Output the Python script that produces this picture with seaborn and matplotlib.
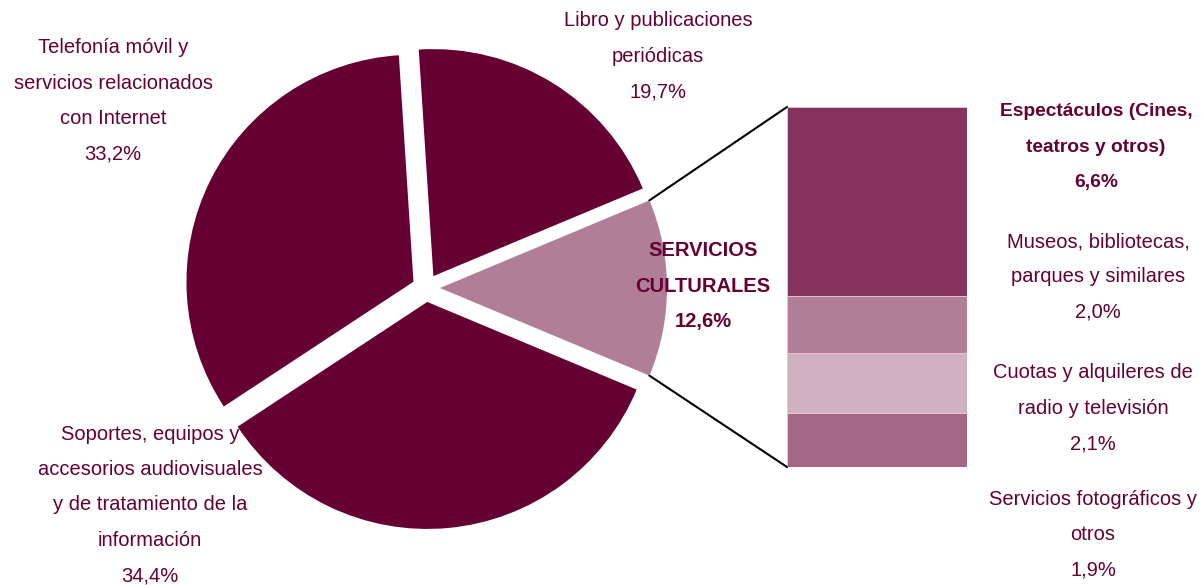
import matplotlib
matplotlib.use("Agg")
import matplotlib.pyplot as plt
import seaborn as sns
import numpy as np
from matplotlib.patches import ConnectionPatch

# --- Data ---
pie_labels = ["SERVICIOS\nCULTURALES", "Libro y publicaciones\nperiódicas",
              "Telefonía móvil y\nservicios relacionados\ncon Internet",
              "Soportes, equipos y\naccesorios audiovisuales\ny de tratamiento de la\ninformación"]
pie_values = [12.6, 19.7, 33.2, 34.4]

bar_labels = ["Servicios fotográficos y\notros", "Cuotas y alquileres de\nradio y televisión",
              "Museos, bibliotecas,\nparques y similares", "Espectáculos (Cines,\nteatros y otros)"]
bar_values = [1.9, 2.1, 2.0, 6.6]

pie_colors = ["#B07F97", "#660033", "#660033", "#660033"]
bar_colors = ["#A36684", "#D1B0C1", "#B07F97", "#85325D"]
text_color = "#660033"

sns.set_theme(style="white")
plt.rcParams['font.family'] = ['Liberation Sans', 'DejaVu Sans']

W, H = 1202, 585
fig = plt.figure(figsize=(W / 100, H / 100), dpi=100)

# --- Pie (data units = pixels) ---
cx, cy, half = 426, 288, 260
R = 227
ax_pie = fig.add_axes([(cx - half) / W, (H - cy - half) / H, 2 * half / W, 2 * half / H])
start = -pie_values[0] / sum(pie_values) * 360 / 2
wedges, _ = ax_pie.pie(pie_values, colors=pie_colors, startangle=start, radius=R,
                       explode=[14] * 4, counterclock=True,
                       wedgeprops=dict(linewidth=0))
ax_pie.set_xlim(-half, half)
ax_pie.set_ylim(-half, half)
ax_pie.set_aspect("equal")
ax_pie.axis("off")

# --- Stacked bar ---
bx0, by0, bw, bh = 787, 107, 180, 360
ax_bar = fig.add_axes([bx0 / W, (H - by0 - bh) / H, bw / W, bh / H])
bottom = 0
for v, c in zip(bar_values, bar_colors):
    ax_bar.bar(0, v, width=1, bottom=bottom, color=c, edgecolor="#E8C8D8", linewidth=0.6)
    bottom += v
ax_bar.set_xlim(-0.5, 0.5)
ax_bar.set_ylim(0, sum(bar_values))
ax_bar.axis("off")

# --- Connector lines ---
w = wedges[0]
for ang, ybar in [(w.theta2, sum(bar_values)), (w.theta1, 0)]:
    px = w.center[0] + w.r * np.cos(np.radians(ang))
    py = w.center[1] + w.r * np.sin(np.radians(ang))
    con = ConnectionPatch(xyA=(px, py), coordsA=ax_pie.transData,
                          xyB=(-0.5, ybar), coordsB=ax_bar.transData,
                          color="black", linewidth=1.5)
    fig.add_artist(con)

# --- Labels ---
def label(x, y, s, bold=False, size=14.5, ls=2.1):
    fig.text(x / W, 1 - y / H, s, ha="center", va="center", fontsize=size, color=text_color,
             linespacing=ls, fontweight="bold" if bold else "normal")

label(113, 101, "Telefonía móvil y\nservicios relacionados\ncon Internet\n33,2%")
label(658, 56, "Libro y publicaciones\nperiódicas\n19,7%")
label(703, 286, "SERVICIOS\nCULTURALES\n12,6%", bold=True)
label(150, 505, "Soportes, equipos y\naccesorios audiovisuales\ny de tratamiento de la\ninformación\n34,4%")
label(1096, 147, "Espectáculos (Cines,\nteatros y otros)\n6,6%", bold=True, size=13.8, ls=2.45)
label(1098, 277, "Museos, bibliotecas,\nparques y similares\n2,0%")
label(1093, 408, "Cuotas y alquileres de\nradio y televisión\n2,1%")
label(1093, 535, "Servicios fotográficos y\notros\n1,9%")

fig.savefig("out.png", dpi=100)
